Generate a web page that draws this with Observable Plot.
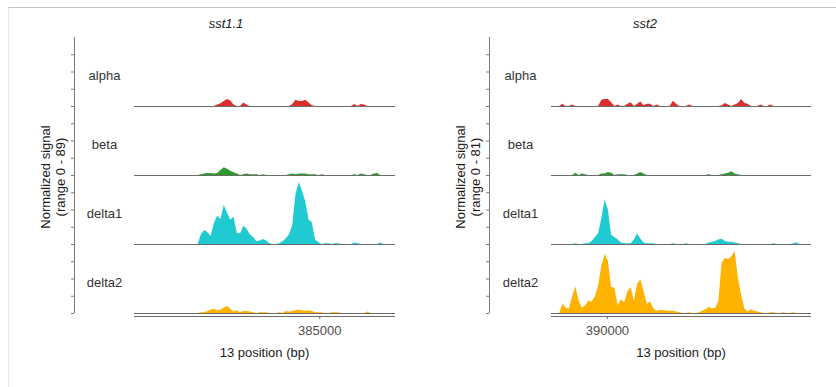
<!DOCTYPE html>
<html>
<head>
<meta charset="utf-8">
<script src="https://cdn.jsdelivr.net/npm/d3@7"></script>
<script src="https://cdn.jsdelivr.net/npm/@observablehq/plot@0.6"></script>
<style>
  html, body { margin: 0; padding: 0; background: #fff; }
  #chart { position: relative; width: 836px; height: 387px; overflow: hidden;
           font-family: "Liberation Sans", Arial, Helvetica, sans-serif; }
  .frame { position: absolute; left: 8px; top: 7px; right: 0; bottom: 0;
           border-top: 1px solid #c4c4c4; border-left: 1px solid #e8e8e8; }
  .panel { position: absolute; top: 0; }
  .lbl { position: absolute; transform: translate(-50%, -50%); white-space: nowrap;
         font-size: 13px; line-height: 13px; color: #1a1a1a; }
  .title { font-style: italic; }
  .ytitle { transform: translate(-50%, -50%) rotate(-90deg); }
</style>
</head>
<body>
<div id="chart"><div class="frame"></div></div>
<script>
// Coverage tracks, one row per cell type
const tracks = ["alpha", "beta", "delta1", "delta2"];
const trackColors = ["#db2f2f", "#2e9a2e", "#1fcad0", "#ffb200"];
const binSize = 50;                 // bp per bin
const yTickFractions = [0, 0.25, 0.5, 0.75];
const axisTitle = "13 position (bp)";

// sst1.1 locus
const sst11Name = "sst1.1";
const sst11Start = 382160;
const sst11End = 386160;
const sst11Ticks = [385000];
const sst11Range = 89;
const sst11Alpha = [
  0,0,0,0,0,0,0,0,0,0,
  0,0,0,0,0,0,0,0,0,0,
  0,0,0,0,0,2,4,7,10,8,
  2,0,0,5,2,0,0,0,0,0,
  0,0,0,0,0,0,0,0,3,9,
  7,7,9,5,1,0,0,0,0,0,
  0,0,0,0,0,0,0,3,0,3,
  2,0,0,0,0,0,0,0,0,0
];
const sst11Beta = [
  0,0,0,0,0,0,0,0,0,0,
  0,0,0,0,0,0,0,0,0,0,
  1,2,3,3,2,3,7,11,9,6,
  4,2,0,1,2,1,1,1,0,1,
  0,0,0,0,0,0,0,1,2,1,
  2,2,2,1,1,1,0,1,0,0,
  0,0,0,0,0,0,0,1,0,2,
  1,0,0,2,3,0,0,0,0,0
];
const sst11Delta1 = [
  0,0,0,0,0,0,0,0,0,0,
  0,0,0,0,0,0,0,0,0,0,
  14,20,17,12,30,41,36,56,45,35,
  39,16,15,26,22,14,10,4,5,7,
  5,1,0,0,1,4,8,14,27,72,
  89,76,61,35,31,6,3,0,1,1,
  0,1,1,0,0,0,0,2,1,0,
  0,0,0,0,0,2,0,0,0,0
];
const sst11Delta2 = [
  0,0,0,0,0,0,0,0,0,0,
  0,0,0,0,0,0,0,0,0,0,
  1,1,3,5,6,4,5,8,10,6,
  2,4,1,3,3,2,1,0,1,1,
  1,0,0,0,1,0,3,2,3,4,
  5,4,3,4,3,1,1,1,0,0,
  1,1,1,0,0,0,0,0,0,0,
  0,2,0,0,0,0,0,0,0,0
];

// sst2 locus
const sst2Name = "sst2";
const sst2Start = 389140;
const sst2End = 393140;
const sst2Ticks = [390000];
const sst2Range = 81;
const sst2Alpha = [
  0,0,0,3,0,0,2,0,0,0,
  0,0,0,0,0,8,9,9,5,0,
  2,0,0,3,5,0,3,6,1,3,
  3,0,2,0,0,0,0,7,3,0,
  0,0,2,0,0,0,0,0,0,0,
  0,0,1,4,2,0,2,4,9,4,
  3,0,0,0,2,0,0,2,0,0,
  0,0,0,0,0,0,0,0,0,0
];
const sst2Beta = [
  0,0,0,0,0,0,0,3,0,2,
  1,0,0,0,0,2,2,4,3,0,
  1,1,1,0,0,0,2,4,2,0,
  0,0,0,0,0,0,0,0,0,0,
  0,0,0,0,0,0,0,0,1,0,
  0,0,1,2,3,5,2,1,0,0,
  0,0,0,0,0,0,0,0,0,0,
  0,0,0,0,0,0,0,0,0,0
];
const sst2Delta1 = [
  0,0,0,0,0,0,0,1,0,0,
  1,1,4,9,14,34,58,45,12,9,
  6,2,1,1,1,6,14,7,2,1,
  1,1,0,0,0,0,0,1,0,0,
  0,1,0,0,0,0,0,0,2,3,
  4,6,7,4,3,3,2,1,0,0,
  0,0,0,0,0,0,0,0,1,0,
  0,0,0,0,1,2,0,0,0,0
];
const sst2Delta2 = [
  0,0,0,12,7,6,22,35,16,7,
  10,16,15,22,36,62,77,68,34,33,
  10,18,14,28,34,16,38,44,28,12,
  15,6,3,4,4,3,3,3,2,1,
  0,0,1,0,0,1,3,5,8,6,
  7,16,66,72,70,74,81,46,24,6,
  2,5,3,2,1,0,0,1,1,0,
  0,1,0,0,1,0,0,0,0,0
];

const loci = [
  {name: sst11Name, start: sst11Start, end: sst11End, ticks: sst11Ticks, range: sst11Range,
   series: [sst11Alpha, sst11Beta, sst11Delta1, sst11Delta2],
   left: 0, marginLeft: 134, axisDx: -60, labelDx: -30, titleX: 226},
  {name: sst2Name, start: sst2Start, end: sst2End, ticks: sst2Ticks, range: sst2Range,
   series: [sst2Alpha, sst2Beta, sst2Delta1, sst2Delta2],
   left: 416, marginLeft: 135, axisDx: -62, labelDx: -31, titleX: 229}
];

const panelWidth = 416, panelHeight = 387, marginRight = 21, marginTop = 35, marginBottom = 73;
const chart = document.getElementById("chart");

function addLabel(text, x, y, cls) {
  const el = document.createElement("div");
  el.className = "lbl " + (cls || "");
  el.textContent = text;
  el.style.left = x + "px";
  el.style.top = y + "px";
  chart.appendChild(el);
}

for (const locus of loci) {
  const rows = tracks.flatMap((track, k) =>
    locus.series[k].map((value, i) => ({track, pos: locus.start + (i + 0.5) * binSize, value})));
  const yMax = locus.range / 0.9;   // 10% headroom above the highest signal

  const plot = Plot.plot({
    width: panelWidth,
    height: panelHeight,
    marginTop, marginBottom, marginRight,
    marginLeft: locus.marginLeft,
    style: {fontFamily: "'Liberation Sans', Arial, Helvetica, sans-serif", fontSize: "13px", background: "transparent", overflow: "visible"},
    x: {domain: [locus.start, locus.end]},
    y: {domain: [0, yMax]},
    fy: {domain: tracks, padding: 0, axis: null},
    color: {domain: tracks, range: trackColors},
    marks: [
      Plot.areaY(rows, {x: "pos", y: "value", fy: "track", fill: "track", curve: "linear"}),
      Plot.ruleY(tracks, {fy: d => d, y: () => 0, stroke: "#6b6b6b", strokeWidth: 1}),
      Plot.ruleY([tracks[tracks.length - 1]], {fy: d => d, y: () => 0, dy: 3, stroke: "#6b6b6b", strokeWidth: 1}),
      Plot.ruleX(tracks, {fy: d => d, x: () => locus.start, dx: locus.axisDx, stroke: "#7a7a7a", strokeWidth: 1}),
      Plot.axisY({ticks: yTickFractions.map(f => f * yMax), tickSize: 3, tickFormat: () => "",
                  dx: locus.axisDx, stroke: "#7a7a7a", label: null}),
      Plot.axisX({ticks: locus.ticks, tickSize: 3, tickPadding: 6, dy: 3, tickFormat: d3.format("d"),
                  stroke: "#6b6b6b", fill: "#4d4d4d", label: null}),
      Plot.text(tracks, {fy: d => d, text: d => d, frameAnchor: "left", dx: locus.labelDx, dy: 4,
                         textAnchor: "middle", fill: "#333", fontSize: 13})
    ]
  });

  const panel = document.createElement("div");
  panel.className = "panel";
  panel.style.left = locus.left + "px";
  panel.appendChild(plot);
  chart.appendChild(panel);

  const axisX = locus.left + locus.marginLeft + locus.axisDx;
  const trackMid = locus.left + locus.marginLeft + (panelWidth - locus.marginLeft - marginRight) / 2;
  addLabel(locus.name, locus.left + locus.titleX, 23, "title");
  addLabel("Normalized signal", axisX - 29, 177, "ytitle");
  addLabel(`(range 0 - ${locus.range})`, axisX - 14, 177, "ytitle");
  addLabel(axisTitle, trackMid, 352);
}
</script>
</body>
</html>
